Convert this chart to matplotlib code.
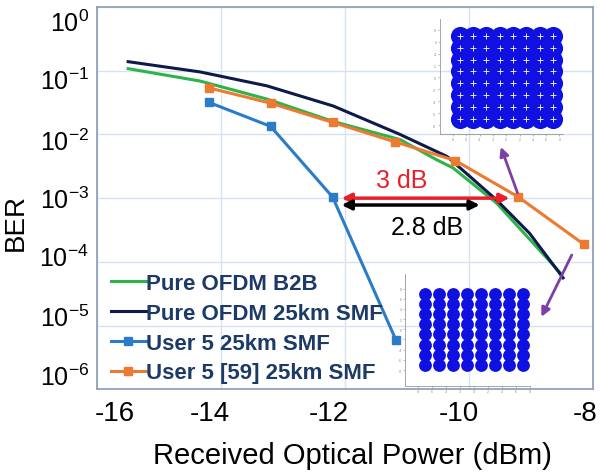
import numpy as np
import matplotlib
matplotlib.use("Agg")
import matplotlib.pyplot as plt
import matplotlib.transforms as mtransforms
from matplotlib.ticker import LogFormatterSciNotation

plt.rcParams['font.family'] = ['Liberation Sans', 'DejaVu Sans']
plt.rcParams['mathtext.default'] = 'regular'
plt.rcParams['axes.unicode_minus'] = False

# ---- data
b2b_x = [-15.5, -14.34, -13.26, -12.19, -11.11, -10.52, -10.26, -9.55, -8.53]
b2b_y = [0.108, 0.069, 0.036, 0.016, 0.0083, 0.004, 0.003, 0.00083, 0.000068]

smf_x = [-15.5, -14.34, -13.26, -12.19, -11.11, -10.35, -9.55, -9.02, -8.48]
smf_y = [0.139, 0.096, 0.058, 0.028, 0.01, 0.0045, 0.00093, 0.00028, 0.000056]

user5_x = [-14.2, -13.2, -12.2, -11.18]
user5_y = [0.032, 0.0134, 0.00104, 0.000006]

ref59_x = [-14.2, -13.2, -12.2, -11.2, -10.22, -9.2, -8.15]
ref59_y = [0.054, 0.031, 0.0155, 0.0077, 0.0039, 0.00104, 0.00019]

xticks = [-16, -14, -12, -10, -8]
yticks = [1e-6, 1e-5, 1e-4, 1e-3, 1e-2, 1e-1, 1e0]
levels = [-7, -5, -3, -1, 1, 3, 5, 7]   # 64-QAM constellation grid

c_green = '#2CB34A'
c_navy = '#0E1A4A'
c_blue = '#2A7BC8'
c_orange = '#EC7A30'
c_purple = '#7B3FA6'

fig = plt.figure(figsize=(6, 4.77), dpi=100)
ax = fig.add_axes([0.162, 0.182, 0.826, 0.801])

ax.plot(b2b_x, b2b_y, color=c_green, lw=2.2, label='Pure OFDM B2B', zorder=3)
ax.plot(smf_x, smf_y, color=c_navy, lw=2.2, label='Pure OFDM 25km SMF', zorder=3)
ax.plot(user5_x, user5_y, color=c_blue, lw=2.2, marker='s', ms=6, label='User 5 25km SMF', zorder=4)
ax.plot(ref59_x, ref59_y, color=c_orange, lw=2.2, marker='s', ms=6, label='User 5 [59] 25km SMF', zorder=4)

ax.set_yscale('log')
ax.set_xlim(-16, -8)
ax.set_ylim(1e-6, 1)
ax.set_xticks(xticks)
ax.set_yticks(yticks)
ax.yaxis.set_major_formatter(LogFormatterSciNotation())
ax.yaxis.set_minor_locator(plt.NullLocator())
ax.tick_params(length=0)
ax.tick_params(axis='x', labelsize=20, pad=8)
ax.tick_params(axis='y', labelsize=18, pad=6)
ax.grid(True, color='#D6E2F2', lw=1)
for s in ax.spines.values():
    s.set_color('#8A9BB3')
    s.set_linewidth(1.2)

# the tick labels in the original sit slightly off their grid lines (pixels)
x_shift = [18, -11, -16, -10, -8]
y_shift = [15, 10, 7, 1, -5, -8, -13]   # from 1e-6 up to 1e0
fig.canvas.draw()
for lab, dx in zip(ax.get_xticklabels(), x_shift):
    lab.set_transform(lab.get_transform() + mtransforms.ScaledTranslation(dx / 100, 0, fig.dpi_scale_trans))
for lab, dy in zip(ax.get_yticklabels(), y_shift):
    lab.set_transform(lab.get_transform() + mtransforms.ScaledTranslation(0, dy / 100, fig.dpi_scale_trans))

ax.set_xlabel('Received Optical Power (dBm)', fontsize=21)
ax.xaxis.set_label_coords(0.516, -0.136)
ax.set_ylabel('BER', fontsize=20)
ax.yaxis.set_label_coords(-0.139, 0.44)

# dB gap arrows
ax.annotate('', xy=(-12.1, 1.0e-3), xytext=(-9.3, 1.0e-3),
            arrowprops=dict(arrowstyle='<|-|>', color='#E8202A', lw=2.5, mutation_scale=14), zorder=5)
ax.annotate('', xy=(-12.1, 7.8e-4), xytext=(-9.78, 7.8e-4),
            arrowprops=dict(arrowstyle='<|-|>', color='black', lw=2.5, mutation_scale=14), zorder=5)
ax.text(-11.08, 1.9e-3, '3 dB', color='#E8202A', fontsize=18, ha='center', va='center')
ax.text(-10.68, 3.5e-4, '2.8 dB', color='black', fontsize=18, ha='center', va='center')

# purple pointers to the constellations
ax.annotate('', xy=(-9.5, 7.0e-3), xytext=(-9.2, 1.1e-3),
            arrowprops=dict(arrowstyle='-|>', color=c_purple, lw=2, mutation_scale=13), zorder=5)
ax.annotate('', xy=(-8.85, 1.25e-5), xytext=(-8.32, 1.4e-4),
            arrowprops=dict(arrowstyle='-|>', color=c_purple, lw=2, mutation_scale=13), zorder=5)

leg = ax.legend(loc='lower left', bbox_to_anchor=(0.0, -0.02), frameon=False,
                prop={'weight': 'bold', 'size': 16}, handlelength=1.6, handletextpad=0.0,
                labelspacing=0.4, borderaxespad=0.2)
for t in leg.get_texts():
    t.set_color('#1B3A66')

gx, gy = np.meshgrid(levels, levels)
gx = gx.ravel()
gy = gy.ravel()


def inset(rect, xlim, ylim):
    a = fig.add_axes(rect)
    a.set_xlim(*xlim)
    a.set_ylim(*ylim)
    a.patch.set_alpha(0)
    for k in ['top', 'right']:
        a.spines[k].set_visible(False)
    for k in ['left', 'bottom']:
        a.spines[k].set_color('#999999')
        a.spines[k].set_linewidth(0.6)
    a.set_xticks(np.arange(-8, 9, 2))
    a.set_yticks(np.arange(-8, 9, 2))
    a.tick_params(length=1.5, width=0.4, labelsize=2.5, pad=1, colors='#888888')
    return a


# upper constellation (merged clouds)
top = inset([0.733, 0.717, 0.205, 0.241], (-10, 8.5), (-9.5, 9.8))
top.scatter(gx, gy, s=190, c='#1010E0', marker='o', linewidths=0)
top.scatter(gx, gy, s=18, c='white', marker='+', linewidths=0.6)

# lower constellation (separated clouds)
bot = inset([0.675, 0.189, 0.208, 0.235], (-9.9, 8), (-11.1, 10.9))
bot.scatter(gx, gy, s=85, c='#1010E0', marker='o', linewidths=0)

fig.savefig('out.png', dpi=100)
